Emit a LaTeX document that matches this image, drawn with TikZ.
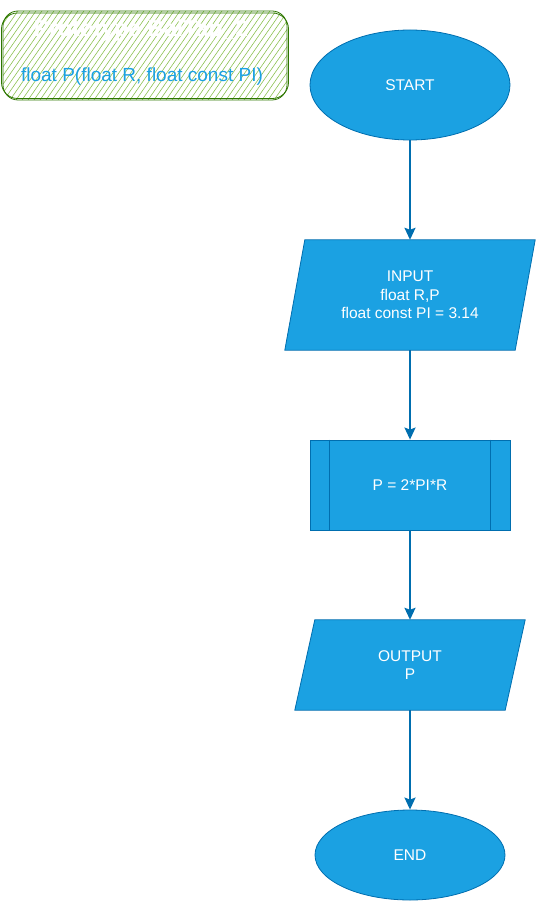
\documentclass[tikz,border=0pt]{standalone}
\usepackage{fontspec}
\setmainfont{Liberation Sans}
\usetikzlibrary{shapes.geometric,arrows.meta}
\definecolor{flfill}{HTML}{1BA1E2}
\definecolor{flline}{HTML}{006EAF}
\definecolor{ghatch}{HTML}{8CC152}
\definecolor{gline}{HTML}{2D7600}
\definecolor{subblue}{HTML}{1BA1E2}
\tikzset{
  flowtext/.style={text=white, align=center, font=\fontsize{15.5}{18.5}\selectfont},
  termbox/.style={ellipse, draw=flline, fill=flfill, line width=0.8pt, inner sep=0pt, flowtext},
  plainbox/.style={draw=none, inner sep=0pt, flowtext},
  shapefill/.style={draw=flline, fill=flfill, line width=0.8pt},
  flowarrow/.style={draw=flline, line width=2pt, -{Stealth[length=12pt,width=11pt,inset=2pt]}},
  hatch/.style={draw=ghatch, line width=0.6pt},
  gstroke/.style={draw=gline, line width=0.8pt}
}
\begin{document}
\begin{tikzpicture}[x=1pt,y=-1pt]
\useasboundingbox (0,0) rectangle (536,901);
% prototype box
\begin{scope}
\clip[rounded corners=15pt] (3,11) rectangle (287,100);
\foreach \i in {-80,-74,...,300} \draw[hatch] (\i,100) -- ++(64,-92);
\end{scope}
\draw[gstroke, rounded corners=15pt] (3,11) rectangle (287,100);
\draw[gstroke, rounded corners=16pt] (1.5,13) rectangle (288.5,98.5);
\node (title) at (141,31) {\fontsize{23}{27}\selectfont\bfseries\color{white}Prototype BaiTap\_2};
\node (sub) at (142,77) {\fontsize{19}{22}\selectfont\color{subblue}float P(float R, float const PI)};

% START
\node[termbox, minimum width=200pt, minimum height=110pt] (start) at (410,85) {START};

% INPUT
\node[plainbox, minimum width=230pt, minimum height=110pt] (in) at (410,295) {};
\path[shapefill] ([xshift=10pt]in.north west) -- ([xshift=10pt]in.north east) -- ([xshift=-10pt]in.south east) -- ([xshift=-10pt]in.south west) -- cycle;
\node[plainbox] (intext) at (in.center) {INPUT\\float R,P\\float const PI = 3.14};

% PROCESS
\node[draw=flline, fill=flfill, line width=0.8pt, flowtext, minimum width=200pt, minimum height=90pt, inner sep=0pt] (proc) at (410,485) {P = 2*PI*R};
\draw[flline, line width=0.8pt] ([xshift=20pt]proc.north west) -- ([xshift=20pt]proc.south west);
\draw[flline, line width=0.8pt] ([xshift=-20pt]proc.north east) -- ([xshift=-20pt]proc.south east);

% OUTPUT
\node[plainbox, minimum width=210pt, minimum height=90pt] (out) at (410,665) {};
\path[shapefill] ([xshift=10pt]out.north west) -- ([xshift=10pt]out.north east) -- ([xshift=-10pt]out.south east) -- ([xshift=-10pt]out.south west) -- cycle;
\node[plainbox] (outtext) at (out.center) {OUTPUT\\P};

% END
\node[termbox, minimum width=190pt, minimum height=90pt] (end) at (410,855) {END};

% arrows
\draw[flowarrow] (start) -- (in);
\draw[flowarrow] (in) -- (proc);
\draw[flowarrow] (proc) -- (out);
\draw[flowarrow] (out) -- (end);
\end{tikzpicture}
\end{document}
